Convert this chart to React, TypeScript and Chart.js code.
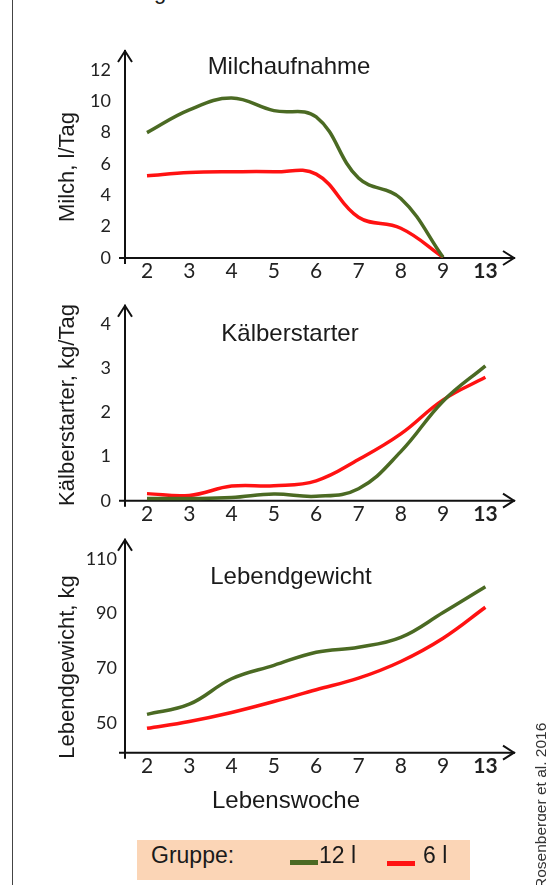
import React, { useEffect, useRef } from 'react';
import { Chart, registerables } from 'chart.js';
Chart.register(...registerables);

// ---- data ----
const weekLabels = ['2', '3', '4', '5', '6', '7', '8', '9', '13'];
const milk12 = [8.0, 9.45, 10.2, 9.4, 9.0, 5.1, 3.8, 0.05, null];
const milk6 = [5.25, 5.45, 5.5, 5.5, 5.35, 2.6, 1.9, 0.05, null];
const starter12 = [0.05, 0.05, 0.07, 0.15, 0.1, 0.27, 1.11, 2.25, 3.05];
const starter6 = [0.16, 0.12, 0.33, 0.34, 0.45, 0.93, 1.51, 2.28, 2.79];
const weight12 = [53.2, 56.9, 66.2, 71.1, 75.9, 77.7, 81.3, 90.4, 99.8];
const weight6 = [48.1, 50.6, 53.9, 57.9, 62.2, 66.4, 72.5, 81.0, 92.3];
const milkTicks = [0, 2, 4, 6, 8, 10, 12];
const starterTicks = [0, 1, 2, 3, 4];
const weightTicks = [50, 70, 90, 110];

const GREEN = '#4b6a23';
const RED = '#ff1212';
const TXT = '#1a1a1a';
const SANS = '"Liberation Sans", Arial, sans-serif';

const axisArrows = {
  id: 'axisArrows',
  beforeDatasetsDraw(chart: any) {
    const { ctx, chartArea } = chart;
    const { left, right, top, bottom } = chartArea;
    ctx.save();
    ctx.strokeStyle = '#111';
    ctx.lineWidth = 2;
    ctx.lineJoin = 'miter';
    ctx.beginPath();
    ctx.moveTo(left, bottom + 6);
    ctx.lineTo(left, top);
    ctx.moveTo(left - 6, bottom);
    ctx.lineTo(right, bottom);
    ctx.stroke();
    ctx.beginPath();
    ctx.moveTo(left - 7, top + 12);
    ctx.lineTo(left, top + 1);
    ctx.lineTo(left + 7, top + 12);
    ctx.moveTo(right - 12, bottom - 7);
    ctx.lineTo(right - 1, bottom);
    ctx.lineTo(right - 12, bottom + 7);
    ctx.stroke();
    ctx.restore();
  },
};

function makeConfig(
  d12: (number | null)[],
  d6: (number | null)[],
  yTicks: number[],
  yMin: number,
  yMax: number,
  padTop: number,
  padBottom: number,
  tickPad: number
): any {
  const toPts = (arr: (number | null)[]) => arr.map((v, i) => ({ x: i, y: v }));
  return {
    type: 'line',
    data: {
      datasets: [
        { data: toPts(d12), borderColor: GREEN, borderWidth: 3.5, pointRadius: 0, tension: 0.4, fill: false },
        { data: toPts(d6), borderColor: RED, borderWidth: 3.5, pointRadius: 0, tension: 0.4, fill: false },
      ],
    },
    options: {
      responsive: false,
      animation: false,
      events: [],
      layout: { padding: { top: padTop, right: 31, bottom: padBottom, left: 0 } },
      plugins: { legend: { display: false }, tooltip: { enabled: false }, title: { display: false } },
      scales: {
        x: {
          type: 'linear',
          min: -0.52,
          max: 8.7,
          grid: { display: false, drawTicks: false },
          border: { display: false },
          afterBuildTicks: (s: any) => {
            s.ticks = weekLabels.map((_, i) => ({ value: i }));
          },
          afterFit: (s: any) => {
            s.height = 30;
          },
          ticks: {
            autoSkip: false,
            maxRotation: 0,
            padding: 1,
            color: '#222',
            font: (c: any) => ({ family: 'Lato', size: 21, weight: c.index === 8 ? 'bold' : 'normal' }),
            callback: (v: any) => weekLabels[v],
          },
        },
        y: {
          min: yMin,
          max: yMax,
          grid: { display: false, drawTicks: false },
          border: { display: false },
          afterBuildTicks: (s: any) => {
            s.ticks = yTicks.map((v) => ({ value: v }));
          },
          afterFit: (s: any) => {
            s.width = 125;
          },
          ticks: { padding: tickPad, color: '#222', font: { family: 'Lato', size: 18 } },
        },
      },
    },
    plugins: [axisArrows],
  };
}

function Txt(props: { children: any; x: number; y: number; size: number; rot?: boolean }) {
  return (
    <div
      style={{
        position: 'absolute',
        left: props.x,
        top: props.y,
        transform: `translate(-50%, -50%)${props.rot ? ' rotate(-90deg)' : ''}`,
        whiteSpace: 'nowrap',
        font: `${props.size}px ${SANS}`,
        lineHeight: 1.15,
        color: TXT,
      }}
    >
      {props.children}
    </div>
  );
}

export default function App() {
  const c1 = useRef<HTMLCanvasElement>(null);
  const c2 = useRef<HTMLCanvasElement>(null);
  const c3 = useRef<HTMLCanvasElement>(null);

  useEffect(() => {
    const charts = [
      new Chart(c1.current as any, makeConfig(milk12, milk6, milkTicks, 0, 13.27, 50, 12, 14)),
      new Chart(c2.current as any, makeConfig(starter12, starter6, starterTicks, 0, 4.43, 18, 19.3, 14)),
      new Chart(c3.current as any, makeConfig(weight12, weight6, weightTicks, 39.2, 117.3, 18, 7.3, 8)),
    ];
    return () => charts.forEach((c) => c.destroy());
  }, []);

  const cv = (top: number, h: number): React.CSSProperties => ({
    position: 'absolute',
    left: 0,
    top,
    width: 546,
    height: h,
  });

  return (
    <div style={{ position: 'absolute', left: 0, top: 0, width: 546, height: 885, overflow: 'hidden', background: '#fff' }}>
      <div style={{ position: 'absolute', left: 12, top: 0, width: 1, height: 885, background: '#444' }} />
      <div style={{ position: 'absolute', left: 154, top: -19, font: `22px ${SANS}`, lineHeight: '22px', color: TXT }}>g</div>

      <canvas ref={c1} width={546} height={300} style={cv(0, 300)} />
      <canvas ref={c2} width={546} height={270} style={cv(280, 270)} />
      <canvas ref={c3} width={546} height={270} style={cv(520, 270)} />

      <Txt x={289} y={66} size={24}>Milchaufnahme</Txt>
      <Txt x={290} y={333} size={24}>Kälberstarter</Txt>
      <Txt x={291} y={576} size={24}>Lebendgewicht</Txt>
      <Txt x={286} y={800} size={24}>Lebenswoche</Txt>

      <Txt x={67} y={167} size={22} rot>Milch, l/Tag</Txt>
      <Txt x={67} y={405} size={22} rot>Kälberstarter, kg/Tag</Txt>
      <Txt x={67} y={667} size={22} rot>Lebendgewicht, kg</Txt>

      <div style={{ position: 'absolute', left: 137, top: 840, width: 333, height: 40, background: '#fbd5b6' }} />
      <div style={{ position: 'absolute', left: 151, top: 855, transform: 'translateY(-50%)', font: `23px ${SANS}`, lineHeight: 1.15, color: TXT, whiteSpace: 'nowrap' }}>Gruppe:</div>
      <div style={{ position: 'absolute', left: 290, top: 860, width: 28, height: 5, background: GREEN }} />
      <div style={{ position: 'absolute', left: 319, top: 855, transform: 'translateY(-50%)', font: `23px ${SANS}`, lineHeight: 1.15, color: TXT, whiteSpace: 'nowrap' }}>12 l</div>
      <div style={{ position: 'absolute', left: 387, top: 861, width: 28, height: 5, background: RED }} />
      <div style={{ position: 'absolute', left: 423, top: 855, transform: 'translateY(-50%)', font: `23px ${SANS}`, lineHeight: 1.15, color: TXT, whiteSpace: 'nowrap' }}>6 l</div>

      <div
        style={{
          position: 'absolute',
          left: 532,
          top: 889,
          transformOrigin: '0 0',
          transform: 'rotate(-90deg)',
          font: `15.5px ${SANS}`,
          lineHeight: 1.1,
          color: '#333',
          whiteSpace: 'nowrap',
        }}
      >
        Rosenberger et al. 2016
      </div>
    </div>
  );
}
